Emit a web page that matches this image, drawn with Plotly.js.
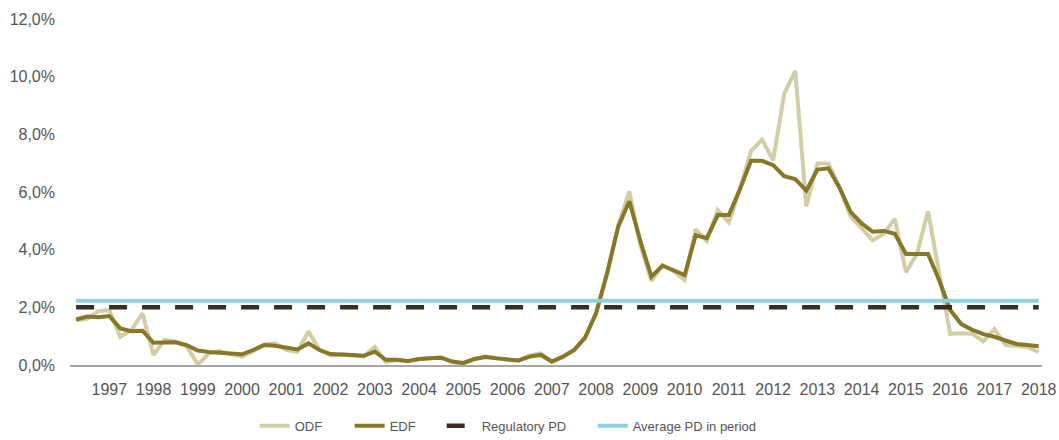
<!DOCTYPE html>
<html>
<head>
<meta charset="utf-8">
<script src="https://cdn.plot.ly/plotly-3.0.1.min.js"></script>
<style>
  html, body { margin: 0; padding: 0; background: #ffffff; }
  #chart { width: 1059px; height: 440px; }
</style>
</head>
<body>
<div id="chart"></div>
<script>
// Quarterly default rates, 1997 Q1 – 2018 Q4 (values in percent)
const years = [1997, 1998, 1999, 2000, 2001, 2002, 2003, 2004, 2005, 2006, 2007,
               2008, 2009, 2010, 2011, 2012, 2013, 2014, 2015, 2016, 2017, 2018];

// Observed default frequency
const odf = [
  1.55, 1.60, 1.87, 1.90,  0.98, 1.21, 1.79, 0.35,  0.87, 0.81, 0.64, 0.02,
  0.40, 0.48, 0.37, 0.29,  0.48, 0.71, 0.75, 0.52,  0.46, 1.16, 0.52, 0.33,
  0.36, 0.33, 0.30, 0.63,  0.10, 0.17, 0.12, 0.20,  0.24, 0.27, 0.10, 0.04,
  0.20, 0.30, 0.24, 0.17,  0.15, 0.33, 0.40, 0.10,  0.28, 0.50, 0.93, 1.78,
  3.15, 4.85, 6.02, 4.15,  2.92, 3.45, 3.25, 2.95,  4.70, 4.30, 5.37, 4.95,
  6.10, 7.42, 7.82, 7.10,  9.40, 10.20, 5.50, 6.99, 6.99, 6.15, 5.15, 4.74,
  4.33, 4.55, 5.07, 3.22,  3.85, 5.33, 3.20, 1.08,  1.10, 1.08, 0.82, 1.25,
  0.69, 0.64, 0.62, 0.45
];

// Expected default frequency
const edf = [
  1.58, 1.68, 1.66, 1.70,  1.27, 1.17, 1.19, 0.77,  0.78, 0.79, 0.69, 0.50,
  0.45, 0.43, 0.38, 0.37,  0.52, 0.69, 0.67, 0.62,  0.54, 0.75, 0.52, 0.38,
  0.38, 0.35, 0.32, 0.46,  0.18, 0.18, 0.14, 0.21,  0.23, 0.25, 0.12, 0.07,
  0.21, 0.28, 0.23, 0.18,  0.16, 0.29, 0.35, 0.12,  0.29, 0.52, 0.95, 1.80,
  3.20, 4.80, 5.68, 4.30,  3.06, 3.45, 3.29, 3.12,  4.50, 4.40, 5.20, 5.20,
  6.10, 7.08, 7.08, 6.93,  6.55, 6.45, 6.05, 6.78,  6.82, 6.15, 5.31, 4.91,
  4.62, 4.65, 4.55, 3.85,  3.85, 3.85, 2.95, 1.91,  1.42, 1.22, 1.07, 0.98,
  0.85, 0.73, 0.69, 0.65
];

const regulatoryPD = 2.0;   // regulatory floor
const averagePD = 2.23;     // average over the whole period

// Y axis ticks and their labels
const yTicks = [0, 2, 4, 6, 8, 10, 12];
const yTickLabels = ['0,0%', '2,0%', '4,0%', '6,0%', '8,0%', '10,0%', '12,0%'];

// Category labels: one per quarter
const quarters = [];
years.forEach(y => { for (let q = 1; q <= 4; q++) quarters.push(y + ' Q' + q); });
// Year label placed on the fourth quarter of each year
const tickQuarters = years.map(y => y + ' Q4');
const tickYears = years.map(String);

const first = quarters[0], last = quarters[quarters.length - 1];

const traces = [
  { name: 'ODF', x: quarters, y: odf, type: 'scatter', mode: 'lines',
    line: { color: '#d3cda6', width: 4 }, legendwidth: 50 },
  { name: 'EDF', x: quarters, y: edf, type: 'scatter', mode: 'lines',
    line: { color: '#867729', width: 4 }, legendwidth: 47 },
  { name: 'Regulatory PD', x: [first, last], y: [regulatoryPD, regulatoryPD],
    type: 'scatter', mode: 'lines',
    line: { color: '#3a2c21', width: 4.5, dash: '18px,15px' }, legendwidth: 106 },
  { name: 'Average PD in period', x: [first, last], y: [averagePD, averagePD],
    type: 'scatter', mode: 'lines',
    line: { color: '#8ecfe0', width: 4 }, legendwidth: 140 }
];

const tickFont = { family: 'Liberation Sans, Arial, sans-serif', size: 16, color: '#555555' };

const layout = {
  width: 1059, height: 440,
  margin: { l: 70, r: 17, t: 19, b: 75, autoexpand: false },
  paper_bgcolor: '#ffffff', plot_bgcolor: '#ffffff',
  showlegend: true,
  legend: {
    orientation: 'h', x: 0.19, xanchor: 'left', y: -0.176, yanchor: 'middle',
    font: { family: 'Liberation Sans, Arial, sans-serif', size: 13, color: '#555555' },
    bgcolor: 'rgba(0,0,0,0)', traceorder: 'normal'
  },
  xaxis: {
    type: 'category', categoryorder: 'array', categoryarray: quarters,
    range: [-0.55, quarters.length - 0.7],
    tickmode: 'array', tickvals: tickQuarters, ticktext: tickYears,
    showgrid: false, zeroline: false, ticks: '',
    showline: true, linecolor: '#a6a6a6', linewidth: 1.5,
    tickfont: tickFont, ticklabelstandoff: 9
  },
  yaxis: {
    range: [0, 12], tickmode: 'array', tickvals: yTicks, ticktext: yTickLabels,
    showgrid: false, zeroline: false, ticks: '', showline: false,
    tickfont: tickFont, ticklabelstandoff: 14
  }
};

Plotly.newPlot('chart', traces, layout, { staticPlot: true, displayModeBar: false });
</script>
</body>
</html>
